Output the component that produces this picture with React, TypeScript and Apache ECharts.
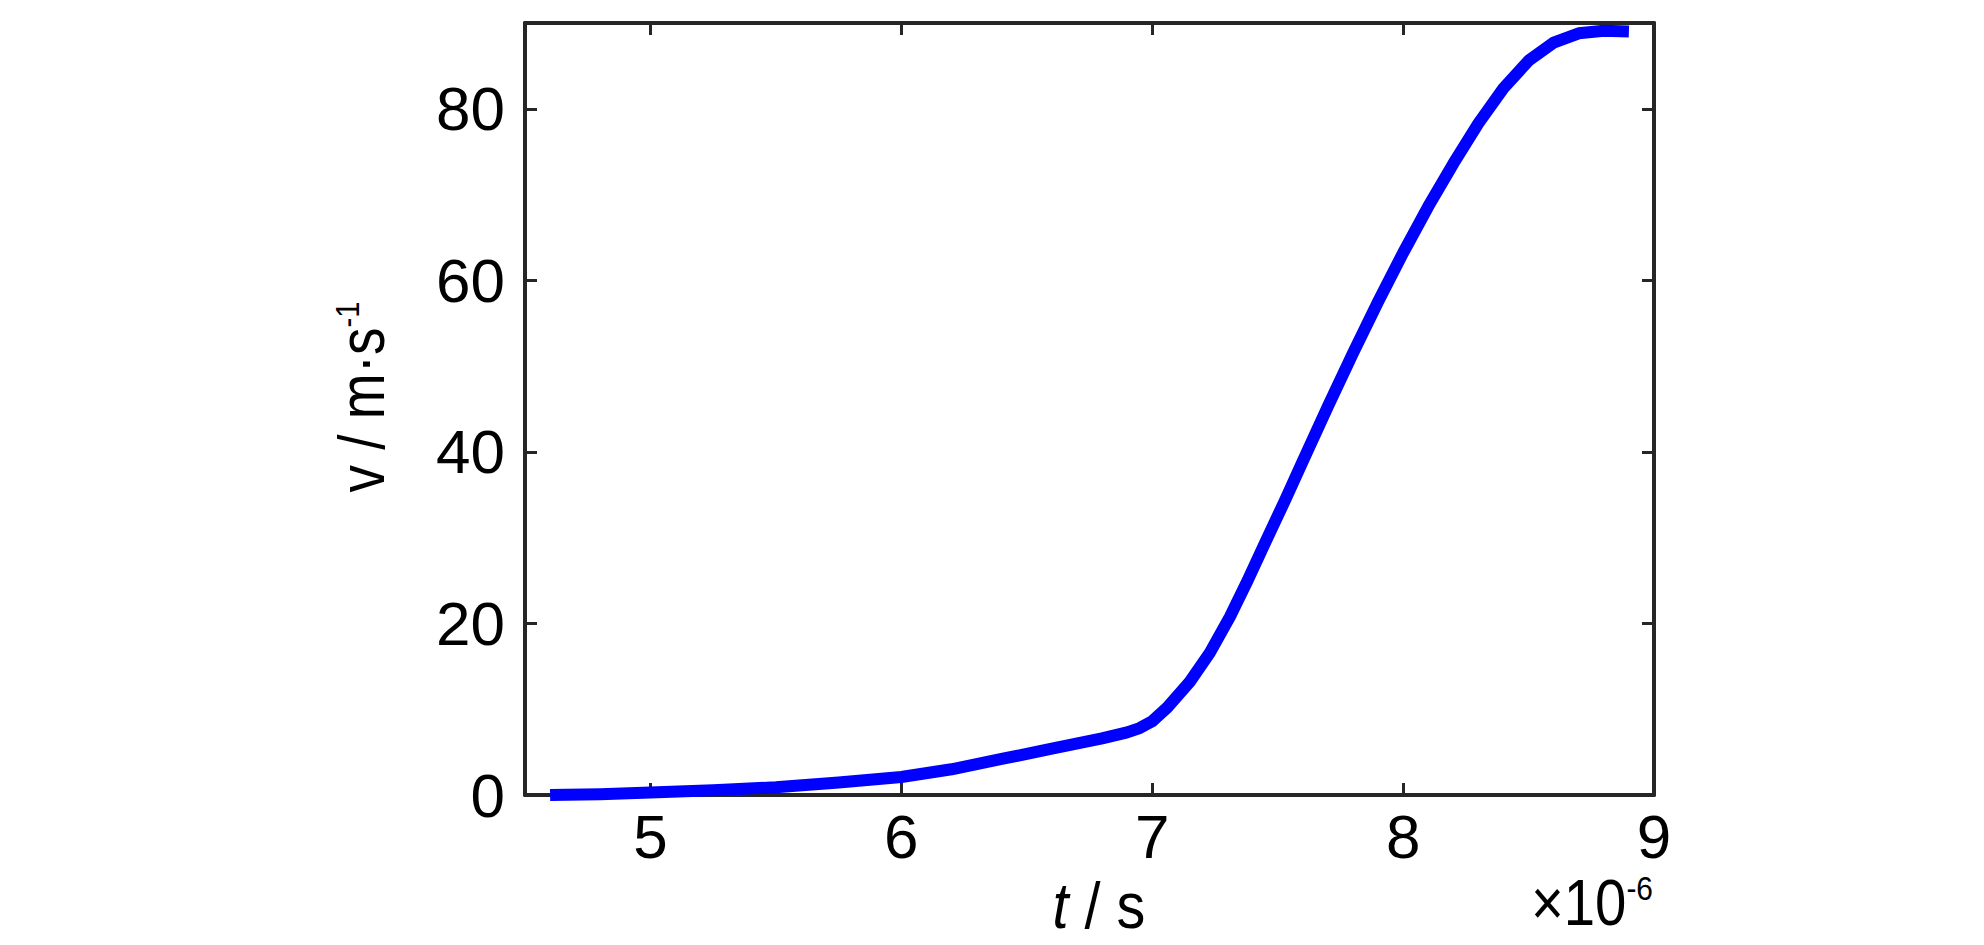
import React, { useEffect, useRef } from "react";
import * as echarts from "echarts";

// time in units of 1e-6 s
const timeValues = [4.6, 4.8, 5.0, 5.25, 5.5, 5.75, 6.0, 6.2, 6.4, 6.6, 6.8, 6.9, 6.95, 7.0, 7.06, 7.15, 7.23, 7.31, 7.38, 7.45, 7.53, 7.6, 7.7, 7.8, 7.9, 8.0, 8.1, 8.2, 8.3, 8.4, 8.5, 8.6, 8.7, 8.8, 8.9];
// velocity in m/s
const speedValues = [0, 0.1, 0.3, 0.55, 0.9, 1.45, 2.1, 3.0, 4.2, 5.4, 6.6, 7.3, 7.8, 8.6, 10.2, 13.2, 16.6, 20.8, 25.0, 29.4, 34.4, 38.9, 45.3, 51.5, 57.5, 63.2, 68.6, 73.6, 78.3, 82.4, 85.6, 87.7, 88.8, 89.1, 89.0];

const xTicks = [5, 6, 7, 8, 9];
const yTicks = [0, 20, 40, 60, 80];
const xRange = [4.5, 9];
const yRange = [0, 90];

const FONT = "'Liberation Sans Narrow', 'Liberation Sans', Arial, sans-serif";
const AXIS = "#262626";

export default function App() {
  const ref = useRef<HTMLDivElement>(null);

  useEffect(() => {
    if (!ref.current) return;
    const chart = echarts.init(ref.current, null, { renderer: "svg" });

    const axisLine = { show: true, onZero: false, lineStyle: { color: AXIS, width: 4 } };
    const tick = (vals: number[]) => ({
      show: true,
      inside: true,
      length: 12,
      customValues: vals,
      lineStyle: { color: AXIS, width: 3 },
    });

    chart.setOption({
      animation: false,
      backgroundColor: "#ffffff",
      grid: { left: 525, right: 330, top: 23, bottom: 150 },
      xAxis: [
        {
          type: "value",
          position: "bottom",
          min: xRange[0],
          max: xRange[1],
          axisLine,
          axisTick: tick(xTicks),
          axisLabel: {
            customValues: xTicks,
            fontFamily: FONT,
            fontSize: 62,
            color: "#000",
            margin: 10,
          },
          splitLine: { show: false },
        },
        {
          type: "value",
          position: "top",
          min: xRange[0],
          max: xRange[1],
          axisLine,
          axisTick: tick(xTicks),
          axisLabel: { show: false },
          splitLine: { show: false },
        },
      ],
      yAxis: [
        {
          type: "value",
          position: "left",
          min: yRange[0],
          max: yRange[1],
          axisLine,
          axisTick: tick(yTicks),
          axisLabel: {
            customValues: yTicks,
            fontFamily: FONT,
            fontSize: 62,
            color: "#000",
            margin: 20,
          },
          splitLine: { show: false },
        },
        {
          type: "value",
          position: "right",
          min: yRange[0],
          max: yRange[1],
          axisLine,
          axisTick: tick(yTicks),
          axisLabel: { show: false },
          splitLine: { show: false },
        },
      ],
      series: [
        {
          type: "line",
          xAxisIndex: 0,
          yAxisIndex: 0,
          data: timeValues.map((t, i) => [t, speedValues[i]]),
          symbol: "none",
          showSymbol: false,
          smooth: false,
          lineStyle: { color: "#0000ff", width: 12, cap: "butt", join: "round" },
        },
      ],
      graphic: [
        {
          type: "text",
          x: 362,
          y: 397,
          rotation: Math.PI / 2,
          scaleX: 0.86,
          style: {
            text: "{a|v / m·s}{b|-1}",
            align: "center",
            verticalAlign: "middle",
            rich: {
              a: { fontFamily: FONT, fontSize: 64, lineHeight: 64, fill: "#000" },
              b: { fontFamily: FONT, fontSize: 34, lineHeight: 26, verticalAlign: "top", fill: "#000" },
            },
          },
        },
        {
          type: "text",
          x: 1099,
          y: 906,
          scaleX: 0.9,
          style: {
            text: "{i|t}{a| / s}",
            align: "center",
            verticalAlign: "middle",
            rich: {
              i: { fontFamily: FONT, fontSize: 64, fontStyle: "italic", lineHeight: 64, fill: "#000" },
              a: { fontFamily: FONT, fontSize: 64, lineHeight: 64, fill: "#000" },
            },
          },
        },
        {
          type: "text",
          x: 1653,
          y: 903,
          scaleX: 0.88,
          style: {
            text: "{a|×10}{b|-6}",
            align: "right",
            verticalAlign: "middle",
            rich: {
              a: { fontFamily: FONT, fontSize: 64, lineHeight: 64, fill: "#000" },
              b: { fontFamily: FONT, fontSize: 34, lineHeight: 26, verticalAlign: "top", fill: "#000" },
            },
          },
        },
      ],
    });

    return () => chart.dispose();
  }, []);

  return (
    <div
      ref={ref}
      style={{ position: "absolute", left: 0, top: 0, width: 1984, height: 945 }}
    />
  );
}
